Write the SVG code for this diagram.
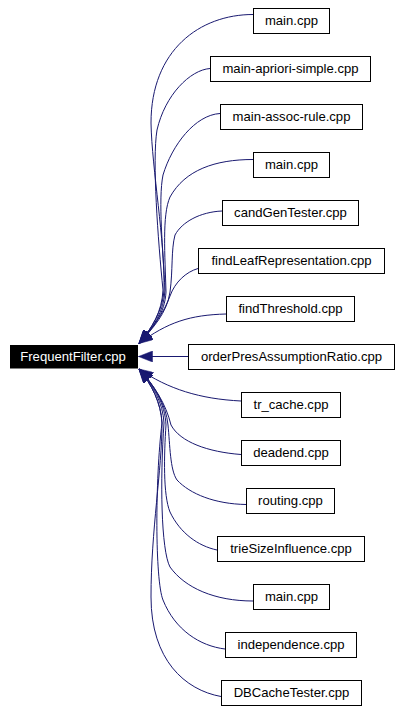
<svg xmlns="http://www.w3.org/2000/svg" width="402" height="711" viewBox="0 0 402 711">
<style>
.n rect{fill:#fff;stroke:#000;stroke-width:1}
.n text{font-family:"Liberation Sans",Arial,Helvetica,sans-serif;font-size:13.1px;fill:#000;text-anchor:middle}
#n_root rect{fill:#000;stroke:#000}
#n_root text{fill:#fff}
.e path{fill:none;stroke:#191970;stroke-width:1;marker-end:url(#ah)}
</style>
<defs>
<marker id="ah" markerUnits="userSpaceOnUse" markerWidth="15" markerHeight="11" refX="14" refY="5.5" orient="auto">
<path d="M0,0 L14,5.5 L0,11 z" fill="#191970" stroke="#191970" stroke-width="0.5"/>
</marker>
</defs>
<rect width="402" height="711" fill="#fff"/>
<g id="edges" class="e">
<path d="M253,14.5 C200,14.5 151,50 151,123 C152,170 165,240 164,290 C163,310 152,328 139,343.5"/>
<path d="M210,68.5 C190,70 165,95 157,130 C152,160 158,240 163,290 C162,312 152,328 139,343.5"/>
<path d="M220,113.5 C195,115 172,145 163,175 C158,200 163,250 165,290 C164,312 153,328 139,343.5"/>
<path d="M253,159.5 C215,159.5 185,170 170,197 C162,215 165,255 166,292 C165,313 153,328 139,343.5"/>
<path d="M222,211 C200,212 182,222 175,235 C171,250 173,270 170,292 C167,313 153,328 139,343.5"/>
<path d="M198,268.5 C186,272 175,282 170,296 C164,313 152,328 139,343.5"/>
<path d="M226,314 C190,315 168,322 139,343.5"/>
<path d="M188,356.5 L138.5,356.5"/>
<path d="M241,401 C200,399 168,389 139,369"/>
<path d="M241,454.5 C208,452 180,442 171,425 C166,404 154,385 139,369"/>
<path d="M246,504.5 C215,504 190,494 177,480 C170,470 170,445 168,425 C166,404 154,385 139,369"/>
<path d="M217,550 C198,546 180,533 170,512 C163,495 164,455 166,425 C165,404 154,385 139,369"/>
<path d="M253,601 C215,601 185,588 170,567 C161,550 160,480 164,423 C163,403 153,385 139,369"/>
<path d="M225,649 C200,646 175,630 163,600 C155,580 155,480 162,423 C161,403 152,385 139,369"/>
<path d="M221,696.5 C185,690 151,660 151,597 C151,530 162,470 162,423 C161,403 152,385 139,369"/>
</g>
<g id="n_root" class="n"><rect x="10.5" y="345.5" width="127" height="22.5"/><text x="73" y="361.2">FrequentFilter.cpp</text></g>
<g id="n0" class="n"><rect x="253.5" y="8.5" width="76" height="25"/><text x="291.5" y="25.2">main.cpp</text></g>
<g id="n1" class="n"><rect x="210.5" y="56.5" width="160" height="25"/><text x="290.5" y="73.2">main-apriori-simple.cpp</text></g>
<g id="n2" class="n"><rect x="220.5" y="104.5" width="142" height="25"/><text x="291.5" y="121.2">main-assoc-rule.cpp</text></g>
<g id="n3" class="n"><rect x="253.5" y="152.5" width="76" height="25"/><text x="291.5" y="169.2">main.cpp</text></g>
<g id="n4" class="n"><rect x="222.5" y="200.5" width="136" height="25"/><text x="290.5" y="217.2">candGenTester.cpp</text></g>
<g id="n5" class="n"><rect x="198.5" y="248.5" width="186" height="25"/><text x="291.5" y="265.2">findLeafRepresentation.cpp</text></g>
<g id="n6" class="n"><rect x="226.5" y="296.5" width="128" height="25"/><text x="290.5" y="313.2">findThreshold.cpp</text></g>
<g id="n7" class="n"><rect x="188.5" y="344.5" width="206" height="25"/><text x="291.5" y="361.2">orderPresAssumptionRatio.cpp</text></g>
<g id="n8" class="n"><rect x="241.5" y="392.5" width="99" height="25"/><text x="291" y="409.2">tr_cache.cpp</text></g>
<g id="n9" class="n"><rect x="241.5" y="440.5" width="99" height="25"/><text x="291" y="457.2">deadend.cpp</text></g>
<g id="n10" class="n"><rect x="246.5" y="488.5" width="88" height="25"/><text x="290.5" y="505.2">routing.cpp</text></g>
<g id="n11" class="n"><rect x="217.5" y="536.5" width="147" height="25"/><text x="291" y="553.2">trieSizeInfluence.cpp</text></g>
<g id="n12" class="n"><rect x="253.5" y="584.5" width="76" height="25"/><text x="291.5" y="601.2">main.cpp</text></g>
<g id="n13" class="n"><rect x="225.5" y="632.5" width="131" height="25"/><text x="291" y="649.2">independence.cpp</text></g>
<g id="n14" class="n"><rect x="221.5" y="680.5" width="140" height="25"/><text x="291.5" y="697.2">DBCacheTester.cpp</text></g>
</svg>
